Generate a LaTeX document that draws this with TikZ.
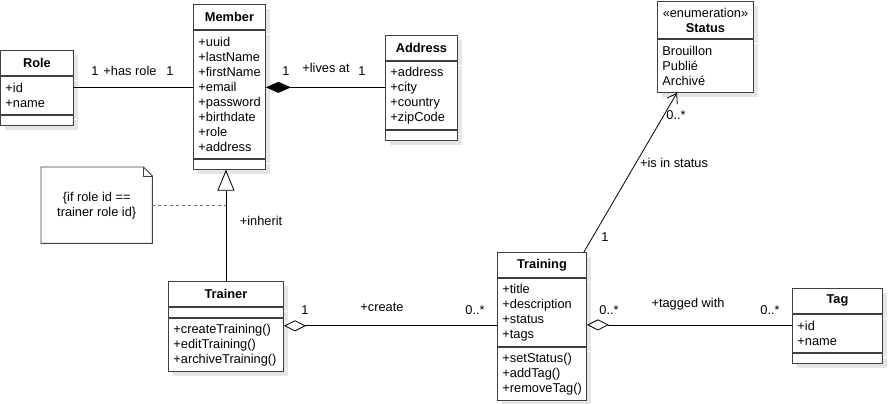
\documentclass[tikz,border=0pt]{standalone}
\usepackage{fontspec}
\setmainfont{Liberation Sans}
\usepackage{tikz}
\usetikzlibrary{positioning,arrows.meta,shadows}

\newcommand{\umlfont}{\fontsize{12.8pt}{15pt}\selectfont}

\begin{document}
\begin{tikzpicture}[
  x=1pt, y=-1pt,
  font=\umlfont,
  box/.style={draw=black!75, line width=0.9pt, fill=white, drop shadow={shadow xshift=5pt, shadow yshift=-5pt, fill=black!10, opacity=1}},
  hdr/.style={box, font=\umlfont\bfseries, anchor=north west, inner sep=0pt, minimum width=#1, minimum height=25pt, align=center},
  cmp/.style={box, inner xsep=5pt, inner ysep=4pt, text width=#1, align=left},
  rows/.style={minimum height=#1*15pt+8pt},
  empty/.style={minimum height=10pt},
  lbl/.style={inner sep=0pt, text height=9pt, text depth=3pt},
  assoc/.style={draw=black, line width=0.8pt},
  depline/.style={draw=black!55, line width=0.8pt, dash pattern=on 3pt off 3pt},
  notebox/.style={anchor=north west, minimum width=111pt, minimum height=76pt, align=center},
  noteline/.style={draw=black!75, line width=0.9pt},
]
  \useasboundingbox (0,0) rectangle (889,404);

  % Member
  \node[hdr=72pt] (member) at (193,4) {Member};
  \node[cmp=62pt, rows=8, below=0pt of member] (memberAttr) {+uuid\\+lastName\\+firstName\\+email\\+password\\+birthdate\\+role\\+address};
  \node[cmp=62pt, empty, below=0pt of memberAttr] (memberOps) {};

  % Role
  \node[hdr=73pt] (role) at (0,50) {Role};
  \node[cmp=63pt, rows=2, below=0pt of role] (roleAttr) {+id\\+name};
  \node[cmp=63pt, empty, below=0pt of roleAttr] (roleOps) {};

  % Address
  \node[hdr=72pt] (address) at (385,35) {Address};
  \node[cmp=62pt, rows=4, below=0pt of address] (addressAttr) {+address\\+city\\+country\\+zipCode};
  \node[cmp=62pt, empty, below=0pt of addressAttr] (addressOps) {};

  % Status
  \node[hdr=96pt, minimum height=37pt] (status) at (657,1) {{\mdseries «enumeration»}\\Status};
  \node[cmp=86pt, rows=3, below=0pt of status] (statusVals) {Brouillon\\Publié\\Archivé};

  % Trainer
  \node[hdr=115pt] (trainer) at (168,281) {Trainer};
  \node[cmp=105pt, empty, below=0pt of trainer] (trainerAttr) {};
  \node[cmp=105pt, rows=3, below=0pt of trainerAttr] (trainerOps) {+createTraining()\\+editTraining()\\+archiveTraining()};

  % Training
  \node[hdr=89pt] (training) at (497,252) {Training};
  \node[cmp=79pt, rows=4, below=0pt of training] (trainingAttr) {+title\\+description\\+status\\+tags};
  \node[cmp=79pt, rows=3, below=0pt of trainingAttr] (trainingOps) {+setStatus()\\+addTag()\\+removeTag()};

  % Tag
  \node[hdr=90pt] (tag) at (792,288) {Tag};
  \node[cmp=80pt, rows=2, below=0pt of tag] (tagAttr) {+id\\+name};
  \node[cmp=80pt, empty, below=0pt of tagAttr] (tagOps) {};

  % Note
  \node[notebox] (note) at (41,167) {\{if role id ==\\trainer role id\}};
  \draw[noteline] (note.north west) -- ([xshift=-9pt]note.north east) -- ([yshift=-9pt]note.north east) -- (note.south east) -- (note.south west) -- cycle;
  \draw[noteline] ([xshift=-9pt]note.north east) |- ([yshift=-9pt]note.north east);

  % Connectors
  \draw[assoc] ([yshift=8pt]roleAttr.east) -- ([yshift=8pt]roleAttr.east -| memberAttr.west);
  \draw[assoc, {Diamond[length=25pt,width=11pt]}-] ([yshift=7pt]memberAttr.east) -- ([yshift=7pt]memberAttr.east -| addressAttr.west);
  \draw[assoc, -{Triangle[open,length=21pt,width=17pt]}] (trainer.north) -- (trainer.north |- memberOps.south);
  \draw[depline] (note.east) -- (note.east -| trainer.north);
  \draw[assoc, {Diamond[open,length=22pt,width=11pt]}-] ([yshift=-8pt]trainerOps.north east) -- ([yshift=-8pt]trainerOps.north east -| trainingAttr.west);
  \draw[assoc, {Diamond[open,length=22pt,width=11pt]}-] ([yshift=-11pt]tagAttr.north west -| trainingAttr.east) -- ([yshift=-11pt]tagAttr.north west);
  \draw[assoc, -{Straight Barb[length=9pt,width=12pt]}] ([xshift=-3pt]training.north east) -- ([xshift=20pt]statusVals.south west);

  % Labels
  \node[lbl] (roleMult) at (95,72) {1};
  \node[lbl] (hasRole) at (130,72) {+has role};
  \node[lbl] (memberRoleMult) at (170,72) {1};
  \node[lbl] (memberAddrMult) at (286,72) {1};
  \node[lbl] (livesAt) at (326,70) {+lives at};
  \node[lbl] (addressMult) at (362,72) {1};
  \node[lbl] (inherit) at (261,222) {+inherit};
  \node[lbl] (trainerMult) at (305,311) {1};
  \node[lbl] (create) at (382,308) {+create};
  \node[lbl] (createdMult) at (475,311) {0..*};
  \node[lbl] (trainingTagMult) at (609,311) {0..*};
  \node[lbl] (taggedWith) at (688,304) {+tagged with};
  \node[lbl] (tagMult) at (770,311) {0..*};
  \node[lbl] (statusMult) at (676,116) {0..*};
  \node[lbl] (isInStatus) at (674,164) {+is in status};
  \node[lbl] (trainingStatusMult) at (605,238) {1};
\end{tikzpicture}
\end{document}
